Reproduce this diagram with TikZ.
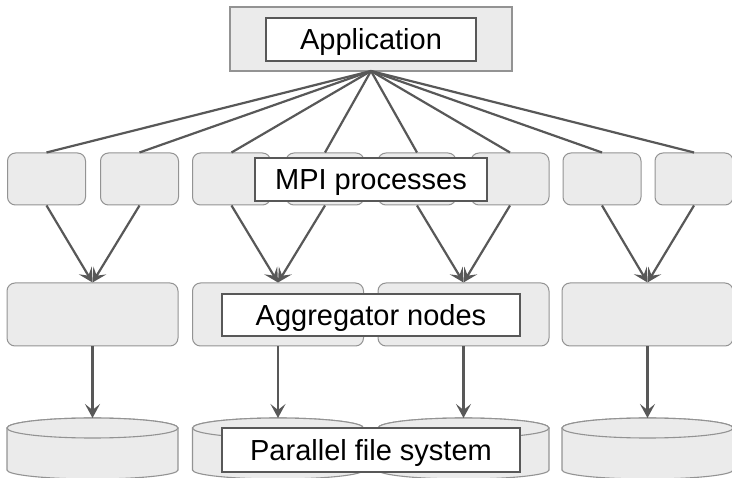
\documentclass[tikz,border=0pt]{standalone}
\usepackage{fontspec}
\setmainfont{Liberation Sans}
\usetikzlibrary{arrows.meta}
\definecolor{boxfill}{HTML}{EBEBEB}
\definecolor{boxline}{HTML}{939393}
\definecolor{conn}{HTML}{585858}
\tikzset{
  graybox/.style={draw=boxline, fill=boxfill, line width=1pt, rounded corners=8pt, inner sep=0pt},
  appbox/.style={draw=boxline, fill=boxfill, line width=1.2pt, inner sep=0pt},
  labelbox/.style={draw=conn, fill=white, line width=1.4pt, inner sep=0pt,
    font=\fontsize{29}{33}\selectfont, text height=21pt, text depth=0pt},
  link/.style={draw=conn, line width=2.2pt},
  arr/.style={draw=conn, line width=2.2pt, -{Stealth[length=14pt,width=15pt,inset=6pt]}},
  cyl/.style={draw=boxline, fill=boxfill, line width=1.1pt},
}
\begin{document}
\begin{tikzpicture}[x=1pt,y=-1pt]
\useasboundingbox (0,0) rectangle (732,478);
\clip (0,0) rectangle (732,478);
% application
\node[appbox, minimum width=282pt, minimum height=64pt] (appouter) at (371,39) {};
\node[labelbox, minimum width=210pt, minimum height=43pt] (app) at (371,39.5) {Application};
\coordinate (fan) at (371,71);
% MPI process boxes
\foreach \i/\x in {1/46.5,2/139.5,3/231.5,4/325,5/417,6/510,7/602,8/694}{
  \node[graybox, minimum width=78pt, minimum height=52pt] (p\i) at (\x,179) {};
}
% aggregator boxes
\foreach \i/\x in {1/92.5,2/278,3/463.5,4/647.5}{
  \node[graybox, minimum width=171pt, minimum height=63pt] (a\i) at (\x,314.5) {};
  \coordinate (c\i) at (\x,418);
}
% fan lines
\foreach \i in {1,...,8}{ \draw[link] (fan) -- (p\i.north); }
% arrows to aggregators
\draw[arr] (p1.south) -- (a1.north);
\draw[arr] (p2.south) -- (a1.north);
\draw[arr] (p3.south) -- (a2.north);
\draw[arr] (p4.south) -- (a2.north);
\draw[arr] (p5.south) -- (a3.north);
\draw[arr] (p6.south) -- (a3.north);
\draw[arr] (p7.south) -- (a4.north);
\draw[arr] (p8.south) -- (a4.north);
% cylinders
\foreach \i in {1,...,4}{
  \path[cyl] ([xshift=-85.5pt,yshift=-10pt]c\i) -- ++(0,42)
     arc[start angle=180,end angle=360,x radius=85.5pt,y radius=9pt]
     -- ++(0,-42) arc[start angle=0,end angle=180,x radius=85.5pt,y radius=10pt] -- cycle;
  \draw[cyl] ([yshift=-10pt]c\i) ellipse[x radius=85.5pt,y radius=10pt];
}
% arrows to cylinders
\foreach \i in {1,...,4}{ \draw[arr] (a\i.south) -- (c\i); }
% labels
\node[labelbox, minimum width=232pt, minimum height=43pt] (mpi) at (371,179.5) {MPI processes};
\node[labelbox, minimum width=298pt, minimum height=42pt] (agg) at (371,315) {Aggregator nodes};
\node[labelbox, minimum width=298pt, minimum height=44pt] (pfs) at (371,450) {Parallel file system};
\end{tikzpicture}
\end{document}
